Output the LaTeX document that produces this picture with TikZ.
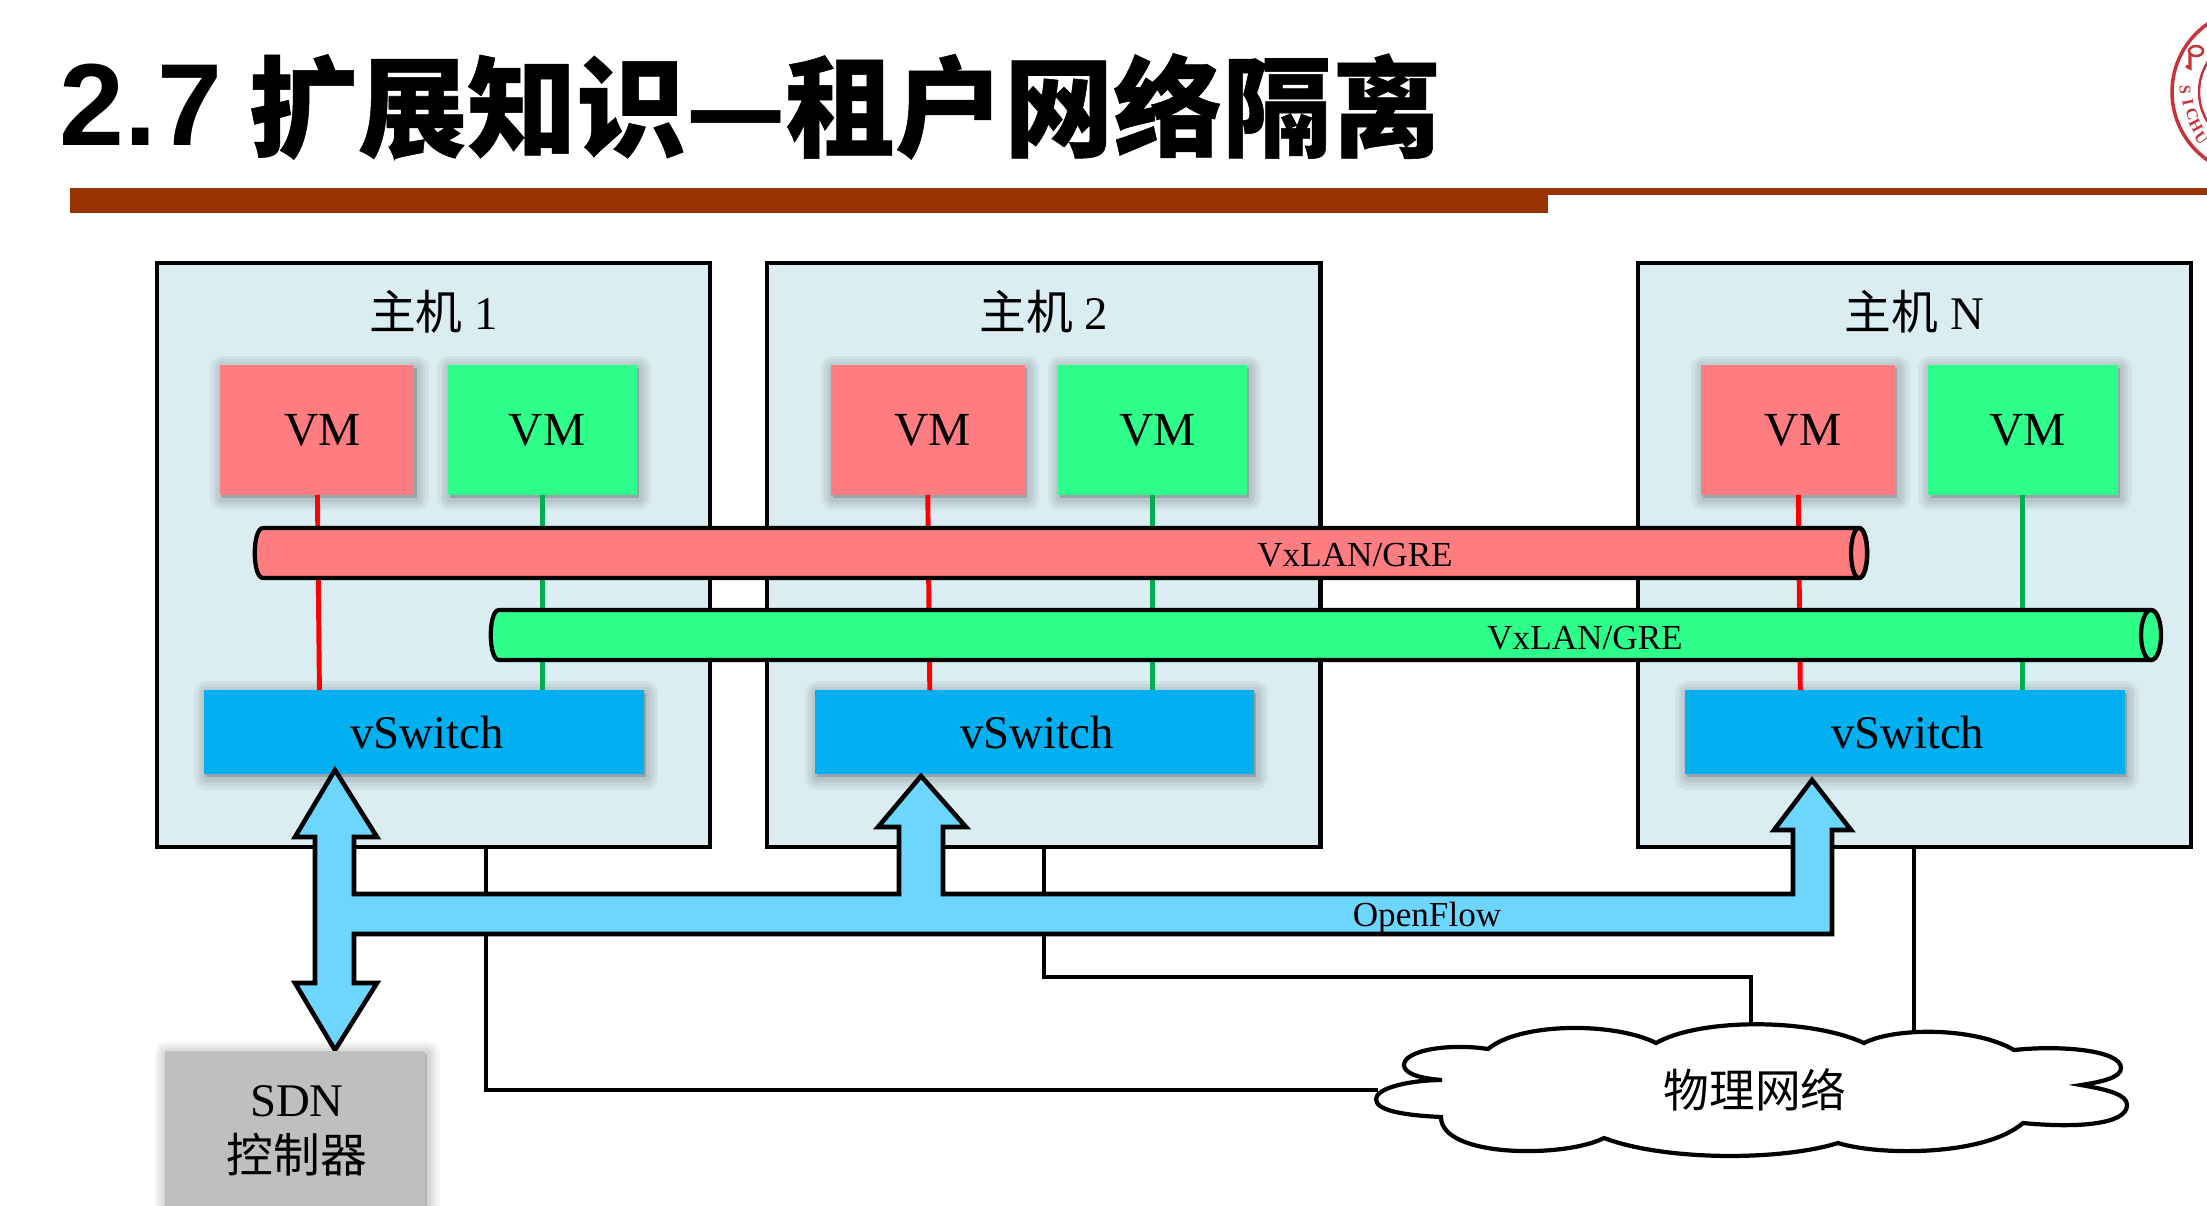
\documentclass[tikz,border=0pt]{standalone}
\usepackage{fontspec}
\setmainfont{Liberation Serif}
\newfontfamily\cjkfont{Noto Sans CJK SC}
\newfontfamily\cjkhead{Noto Sans CJK SC}[BoldFeatures={FakeBold=0.5}]
\newfontfamily\headfont{Liberation Sans}
\usepackage{xcolor}
\usetikzlibrary{positioning, calc}

\definecolor{hostfill}{HTML}{DAEDF3}
\definecolor{vmred}{HTML}{FF7C80}
\definecolor{vmgreen}{HTML}{2EFF8B}
\definecolor{linkgreen}{HTML}{00B050}
\definecolor{swblue}{HTML}{00B0F0}
\definecolor{flowblue}{HTML}{6DD6FF}
\definecolor{rulebrown}{HTML}{993300}
\definecolor{sealred}{HTML}{C8323A}

\newcommand{\vmlabel}{\hspace{2.8pt}VM}
\newcommand{\swlabel}{\hspace{1.6pt}vSwitch}

\begin{document}
\begin{tikzpicture}[
    x=0.01cm, y=-0.01cm,
    softlayer/.style={preaction={draw=black, fill=black, opacity=0.045, line width=#1, line join=round, transform canvas={xshift=0.6pt, yshift=-0.9pt}}},
    softshadow/.style={softlayer=7pt, softlayer=5pt, softlayer=3.5pt, softlayer=2pt},
    % Styles
    titletext/.style={font=\fontsize{33.2}{36}\selectfont\bfseries, inner sep=0pt, anchor=base west},
    hostbox/.style={rectangle, draw=black, fill=hostfill, line width=1.2pt, minimum width=5.53cm, minimum height=5.84cm, outer sep=0pt},
    hostlabel/.style={font=\fontsize{13.3}{15}\selectfont, inner sep=0pt},
    vmbox/.style={rectangle, fill=#1, softshadow, minimum height=1.30cm, font=\fontsize{13.5}{15}\selectfont, inner sep=0pt, outer sep=0pt},
    switchbox/.style={rectangle, fill=swblue, softshadow, minimum width=4.39cm, minimum height=0.84cm, font=\fontsize{13.3}{15}\selectfont, inner sep=0pt, outer sep=0pt},
    tubeline/.style={draw=black, fill=#1, line width=1.2pt},
    tubetext/.style={font=\fontsize{10}{12}\selectfont, inner sep=0pt},
    vmlink/.style={line width=1.4pt, color=#1},
    netlink/.style={line width=1.2pt, color=black},
    sealletter/.style={font=\fontsize{4.6}{6}\selectfont\bfseries, color=sealred, inner sep=0pt},
]

\useasboundingbox (0,0) rectangle (2207,1205);
\clip (0,0) rectangle (2207,1205);

% === TITLE ===
\node[titletext] (title) at (59,145) {\headfont 2.7 \hspace{-1.65pt}\raisebox{-0.9pt}{\fontsize{31.07}{36}\selectfont\cjkhead 扩展知识—租户网络隔离}};
\fill[rulebrown] (70,188) rectangle (1548,213);
\fill[rulebrown] (1548,188) rectangle (2207,195);

% === SEAL ===
\coordinate (sealc) at (2255,92);
\draw[sealred, line width=1pt] (sealc) circle (83);
\draw[sealred, line width=0.7pt] (sealc) circle (56);
\node[sealletter, rotate=-88] (sealS) at (2185,90) {S};
\node[sealletter, rotate=-78] (sealI) at (2188,102) {I};
\node[sealletter, rotate=-70] (sealC) at (2192,114) {C};
\node[sealletter, rotate=-62] (sealH) at (2196,126) {H};
\node[sealletter, rotate=-54] (sealU) at (2201,138) {U};
\draw[sealred, line width=0.7pt] (2196,51) ellipse (7 and 5);
\draw[sealred, line width=0.9pt] (2190,54) -- (2190,68) -- (2186,66);

% === HOSTS ===
\node[hostbox] (host1) at (433.5,555) {};
\node[hostbox, right=0.57cm of host1] (host2) {};
\node[hostbox, right=3.17cm of host2] (hostN) {};

\node[hostlabel, below=0.27cm of host1.north] (label1) {{\cjkfont 主机} 1};
\node[hostlabel, below=0.27cm of host2.north] (label2) {{\cjkfont 主机} 2};
\node[hostlabel, below=0.27cm of hostN.north] (labelN) {{\cjkfont 主机} N};

% === HOST 1 ===
\node[vmbox=vmred, below right=1.02cm and 0.635cm of host1.north west, minimum width=1.94cm] (red1) {\vmlabel};
\node[vmbox=vmgreen, right=0.33cm of red1, minimum width=1.89cm] (green1) {\vmlabel};
\node[switchbox, below right=4.27cm and 0.475cm of host1.north west] (switch1) {\swlabel};
\draw[vmlink=red] (red1.south) -- ($(red1.south |- switch1.north)+(2,0)$);
\draw[vmlink=linkgreen] (green1.south) -- (green1.south |- switch1.north);

% === HOST 2 ===
\node[vmbox=vmred, below right=1.02cm and 0.635cm of host2.north west, minimum width=1.94cm] (red2) {\vmlabel};
\node[vmbox=vmgreen, right=0.33cm of red2, minimum width=1.89cm] (green2) {\vmlabel};
\node[switchbox, below right=4.27cm and 0.475cm of host2.north west] (switch2) {\swlabel};
\draw[vmlink=red] (red2.south) -- ($(red2.south |- switch2.north)+(2,0)$);
\draw[vmlink=linkgreen] (green2.south) -- (green2.south |- switch2.north);

% === HOST N ===
\node[vmbox=vmred, below right=1.02cm and 0.635cm of hostN.north west, minimum width=1.94cm] (redN) {\vmlabel};
\node[vmbox=vmgreen, right=0.33cm of redN, minimum width=1.89cm] (greenN) {\vmlabel};
\node[switchbox, below right=4.27cm and 0.475cm of hostN.north west] (switchN) {\swlabel};
\draw[vmlink=red] (redN.south) -- ($(redN.south |- switchN.north)+(2,0)$);
\draw[vmlink=linkgreen] (greenN.south) -- (greenN.south |- switchN.north);

% === TUNNELS ===
\draw[tubeline=vmred] (263,528) -- (1859,528) .. controls (1870,528) and (1870,578) .. (1859,578)
    -- (263,578) .. controls (252,578) and (252,528) .. (263,528) -- cycle;
\draw[tubeline=vmred] (1859,553) ellipse (8 and 25);
\node[tubetext] (textred) at (1355,555) {VxLAN/GRE};
\draw[tubeline=vmgreen] (499,610) -- (2151,610) .. controls (2164,610) and (2164,660) .. (2151,660)
    -- (499,660) .. controls (488,660) and (488,610) .. (499,610) -- cycle;
\draw[tubeline=vmgreen] (2151,635) ellipse (10 and 25);
\node[tubetext] (textgreen) at (1585,638) {VxLAN/GRE};

% === PHYSICAL NETWORK ===
\coordinate (out1) at (486,847);
\coordinate (out2) at (1044,847);
\coordinate (outN) at (1914,847);
\coordinate (cloudw) at (1378,1090);
\coordinate (cloudn) at (1751,1024);
\coordinate (cloude) at (1914,1032);
\draw[netlink] (out1) |- (cloudw);
\draw[netlink] (out2) -- (1044,977) -| (cloudn);
\draw[netlink] (outN) -- (cloude);

\draw[fill=white, line width=1.2pt] (1488,1049)
    .. controls (1520,1022) and (1615,1022) .. (1656,1043)
    .. controls (1700,1018) and (1810,1018) .. (1864,1043)
    .. controls (1895,1027) and (1975,1027) .. (2014,1050)
    .. controls (2060,1045) and (2121,1050) .. (2121,1068)
    .. controls (2121,1078) and (2100,1082) .. (2081,1085)
    .. controls (2110,1090) and (2127,1095) .. (2127,1105)
    .. controls (2127,1125) and (2075,1128) .. (2023,1123)
    .. controls (1985,1156) and (1880,1156) .. (1838,1143)
    .. controls (1780,1161) and (1665,1161) .. (1604,1138)
    .. controls (1565,1158) and (1441,1158) .. (1441,1117)
    .. controls (1400,1115) and (1376,1110) .. (1376,1099)
    .. controls (1376,1088) and (1410,1080) .. (1442,1080)
    .. controls (1415,1078) and (1404,1072) .. (1404,1065)
    .. controls (1404,1050) and (1450,1043) .. (1488,1049) -- cycle;
\node[font=\fontsize{13}{15}\selectfont\cjkfont, inner sep=0pt] (cloudtext) at (1755,1090) {物理网络};

% === OPENFLOW ===
\draw[fill=flowblue, line width=1.3pt, line join=miter] (335,770) -- (377,837) -- (354,837) -- (354,894)
    -- (899,894) -- (899,827) -- (878,827) -- (921,776) -- (966,827) -- (943,827) -- (943,894)
    -- (1793,894) -- (1793,830) -- (1774,830) -- (1812,780) -- (1851,830) -- (1832,830) -- (1832,934)
    -- (354,934) -- (354,983) -- (377,983) -- (335,1050) -- (295,983) -- (315,983) -- (315,837) -- (295,837) -- cycle;
\node[tubetext] (textflow) at (1427,918) {OpenFlow};

% === CONTROLLER ===
\node[rectangle, fill=black!25, softshadow, minimum width=2.60cm, minimum height=1.70cm, inner sep=0pt, outer sep=0pt] (sdn) at (295,1136) {};
\node[font=\fontsize{13.3}{16}\selectfont, inner sep=0pt, align=center] (sdntext) at (297,1131) {SDN\\{\cjkfont 控制器}};

\end{tikzpicture}
\end{document}
